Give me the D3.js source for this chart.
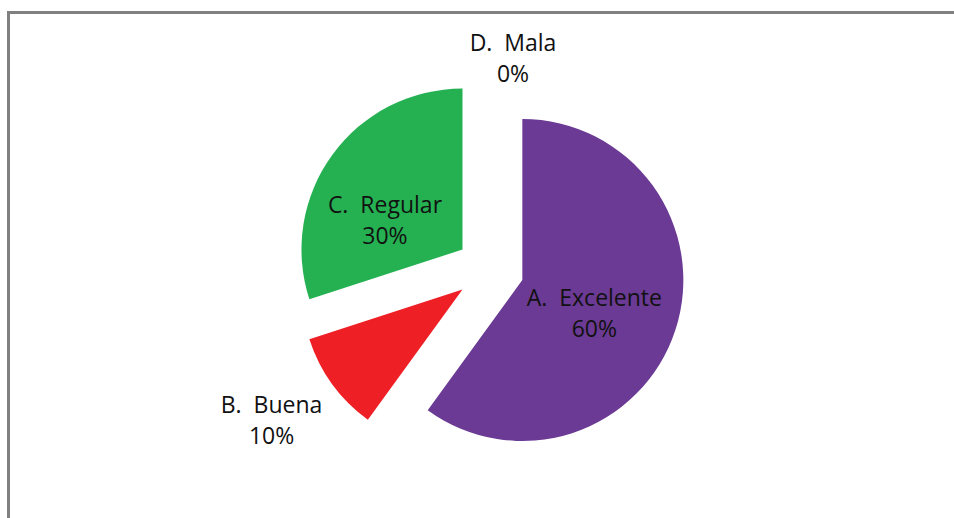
<!DOCTYPE html>
<html>
<head>
<meta charset="utf-8">
<script src="https://cdn.jsdelivr.net/npm/d3@7"></script>
<style>
  html, body { margin: 0; padding: 0; background: #ffffff; }
  svg { display: block; }
</style>
</head>
<body>
<svg id="chart" width="954" height="518"></svg>
<script>
// Survey answers and their shares (percent)
const categories = ["A.  Excelente", "B.  Buena", "C.  Regular", "D.  Mala"];
const values = [60, 10, 30, 0];
const colors = ["#6b3a94", "#ef1f26", "#25b152", "#4f81bd"];

// Layout
const W = 954, H = 518;
const cx = 490, cy = 269.5;
const radius = 161;
const explode = 34;
// where each label sits: distance from the pie centre, plus a small nudge
const labelRadius = { "A.  Excelente": 115, "B.  Buena": 270, "C.  Regular": 115, "D.  Mala": 204 };
const labelNudge = { "A.  Excelente": [-5, 16], "B.  Buena": [0, 0], "C.  Regular": [-12, 27], "D.  Mala": [23, 1] };

const svg = d3.select("#chart");
svg.append("rect").attr("width", W).attr("height", H).attr("fill", "#ffffff");

// chart frame (left and top edges)
svg.append("path")
  .attr("d", `M8.5,${H} V12.5 H${W}`)
  .attr("fill", "none")
  .attr("stroke", "#808080")
  .attr("stroke-width", 3);

const data = categories.map((c, i) => ({ cat: c, value: values[i], color: colors[i] }));

const pie = d3.pie().sort(null).value(d => d.value).startAngle(0).endAngle(2 * Math.PI);
const arcs = pie(data);

const arc = d3.arc().innerRadius(0).outerRadius(radius);

const g = svg.append("g").attr("transform", `translate(${cx},${cy})`);

function offset(a, r) {
  const m = (a.startAngle + a.endAngle) / 2;
  return [Math.sin(m) * r, -Math.cos(m) * r];
}

g.selectAll("path.slice")
  .data(arcs.filter(a => a.data.value > 0))
  .join("path")
  .attr("class", "slice")
  .attr("d", arc)
  .attr("fill", d => d.data.color)
  .attr("transform", d => {
    const [dx, dy] = offset(d, explode);
    return `translate(${dx},${dy})`;
  });

// two-line labels: category, then percentage
const lab = g.selectAll("g.label")
  .data(arcs)
  .join("g")
  .attr("class", "label")
  .attr("transform", d => {
    const [x, y] = offset(d, labelRadius[d.data.cat]);
    const [nx, ny] = labelNudge[d.data.cat];
    return `translate(${x + nx},${y + ny})`;
  })
  .attr("font-family", "'Open Sans', 'DejaVu Sans', sans-serif")
  .attr("font-size", 23)
  .attr("fill", "#111111")
  .attr("text-anchor", "middle");

lab.append("text")
  .attr("y", -15.5)
  .attr("xml:space", "preserve")
  .text(d => d.data.cat);

lab.append("text")
  .attr("y", 15.5)
  .text(d => d.data.value + "%");
</script>
</body>
</html>
